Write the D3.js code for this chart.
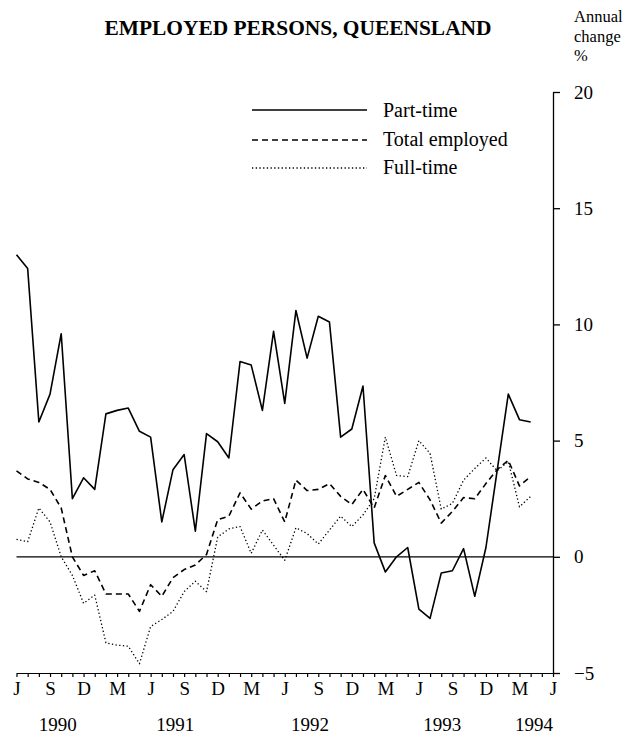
<!DOCTYPE html>
<html><head><meta charset="utf-8">
<script src="https://cdn.jsdelivr.net/npm/d3@7"></script>
<style>
body{margin:0;background:#fff}
svg text{font-family:"Liberation Serif","Times New Roman",serif;fill:#000}
</style>
</head><body>
<svg id="c" width="637" height="734"></svg>
<script>
// ---- data ----
const months = ["Jun 1990","Jul 1990","Aug 1990","Sep 1990","Oct 1990","Nov 1990","Dec 1990",
"Jan 1991","Feb 1991","Mar 1991","Apr 1991","May 1991","Jun 1991","Jul 1991","Aug 1991","Sep 1991","Oct 1991","Nov 1991","Dec 1991",
"Jan 1992","Feb 1992","Mar 1992","Apr 1992","May 1992","Jun 1992","Jul 1992","Aug 1992","Sep 1992","Oct 1992","Nov 1992","Dec 1992",
"Jan 1993","Feb 1993","Mar 1993","Apr 1993","May 1993","Jun 1993","Jul 1993","Aug 1993","Sep 1993","Oct 1993","Nov 1993","Dec 1993",
"Jan 1994","Feb 1994","Mar 1994","Apr 1994"];
const partTime = [13.0,12.4,5.8,7.0,9.6,2.5,3.4,2.9,6.15,6.3,6.4,5.4,5.15,1.5,3.75,4.4,1.1,5.3,4.95,4.25,
8.4,8.25,6.3,9.7,6.6,10.6,8.55,10.35,10.1,5.15,5.5,7.35,0.6,-0.65,0.0,0.4,-2.25,-2.65,-0.7,-0.6,0.35,-1.7,0.4,3.7,7.0,5.9,5.8];
const totalEmployed = [3.7,3.35,3.2,2.9,2.1,0.0,-0.8,-0.6,-1.6,-1.6,-1.6,-2.35,-1.2,-1.7,-0.9,-0.55,-0.35,0.1,1.6,1.75,
2.75,2.05,2.4,2.5,1.5,3.3,2.85,2.9,3.15,2.6,2.25,2.9,2.1,3.5,2.6,2.9,3.2,2.45,1.45,1.95,2.55,2.5,3.15,3.75,4.15,3.05,3.45];
const fullTime = [0.75,0.65,2.1,1.5,0.0,-0.8,-2.0,-1.65,-3.7,-3.8,-3.85,-4.6,-3.0,-2.7,-2.35,-1.5,-1.05,-1.5,0.85,1.2,
1.3,0.15,1.15,0.5,-0.15,1.25,1.0,0.55,1.15,1.75,1.3,1.8,2.5,5.15,3.5,3.45,5.0,4.45,2.05,2.3,3.3,3.8,4.25,3.7,4.1,2.15,2.6];
const quarterLabels = ["J","S","D","M","J","S","D","M","J","S","D","M","J","S","D","M","J"];
const yearLabels = ["1990","1991","1992","1993","1994"];
const yTicks = [-5,0,5,10,15,20];
const seriesNames = ["Part-time","Total employed","Full-time"];
const axisTitle = ["Annual","change","%"];

// ---- layout ----
const yearPos = [3.7,14.2,26.25,38.1,46.3]; // month offsets of year label centres
const svg = d3.select("#c");
const x = d3.scaleLinear().domain([0,48]).range([16.5,553]);
const y = d3.scaleLinear().domain([-5,20]).range([673,92]);

// title
svg.append("text").attr("x",298).attr("y",35).attr("text-anchor","middle")
  .attr("font-size",20).attr("font-weight","bold")
  .attr("textLength",387).attr("lengthAdjust","spacingAndGlyphs")
  .text("EMPLOYED PERSONS, QUEENSLAND");

// axis title
const atY = [22,42,61];
axisTitle.forEach((t,k)=>{
  svg.append("text").attr("x",574).attr("y",atY[k]).attr("font-size",16.5).text(t);
});

// right axis
const ya = svg.append("g").attr("transform","translate(553,0)")
  .call(d3.axisRight(y).tickValues(yTicks).tickSize(7).tickSizeOuter(0).tickPadding(14).tickFormat(d3.format("d")));
ya.selectAll("path,line").attr("stroke","#000").attr("stroke-width",1.3);
ya.selectAll("text").attr("font-size",19).attr("font-family","Liberation Serif, serif").attr("fill","#000");

// bottom axis
const xa = svg.append("g").attr("transform","translate(0,673)")
  .call(d3.axisBottom(x).tickValues(d3.range(0,49)).tickSize(4).tickSizeOuter(0).tickPadding(5)
    .tickFormat(i => i%3===0 ? quarterLabels[i/3] : ""));
xa.selectAll("path,line").attr("stroke","#000").attr("stroke-width",1.2);
xa.selectAll("text").attr("font-size",19).attr("font-family","Liberation Serif, serif").attr("fill","#000");

// year labels
svg.selectAll("text.yr").data(yearLabels).join("text").attr("class","yr")
  .attr("x",(d,i)=>x(yearPos[i])).attr("y",731).attr("text-anchor","middle")
  .attr("font-size",19).text(d=>d);

// zero line
svg.append("line").attr("x1",x(0)).attr("x2",553).attr("y1",y(0)).attr("y2",y(0))
  .attr("stroke","#000").attr("stroke-width",1.3);

const styles = [
  {w:1.6, dash:null},
  {w:1.6, dash:"6,4"},
  {w:1.3, dash:"1.3,2.4"}
];
const line = d3.line().x((d,i)=>x(i)).y(d=>y(d));
[partTime,totalEmployed,fullTime].forEach((s,k)=>{
  svg.append("path").datum(s).attr("d",line).attr("fill","none")
    .attr("stroke","#000").attr("stroke-width",styles[k].w)
    .attr("stroke-dasharray",styles[k].dash).attr("stroke-linejoin","round");
});

// legend
const legY = [110,140,168];
const legT = [117,146,174];
seriesNames.forEach((n,k)=>{
  svg.append("line").attr("x1",252).attr("x2",367).attr("y1",legY[k]).attr("y2",legY[k])
    .attr("stroke","#000").attr("stroke-width",styles[k].w).attr("stroke-dasharray",styles[k].dash);
  svg.append("text").attr("x",383).attr("y",legT[k]).attr("font-size",20).text(n);
});
</script>
</body></html>
